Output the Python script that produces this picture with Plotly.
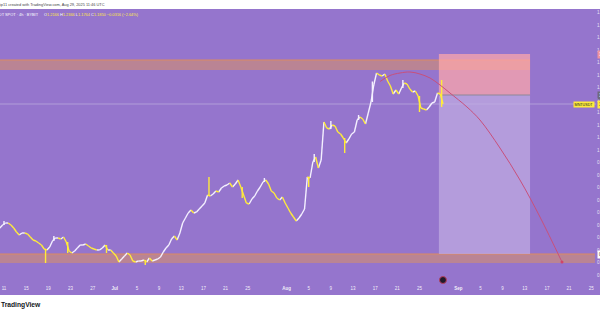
import plotly.graph_objects as go
import pandas as pd

# ---------------- data ----------------
candle_start = "2025-06-10 00:00"   # 12h candles
first_open = 0.681
closes = [
    0.689, 0.701, 0.709, 0.709, 0.701, 0.689, 0.673, 0.661, 0.669, 0.669,
    0.665, 0.653, 0.641, 0.637, 0.629, 0.621, 0.605, 0.601, 0.613, 0.637,
    0.649, 0.649, 0.645, 0.653, 0.633, 0.597, 0.589, 0.597, 0.609, 0.621,
    0.621, 0.625, 0.617, 0.609, 0.605, 0.601, 0.601, 0.609, 0.621, 0.601,
    0.601, 0.589, 0.577, 0.553, 0.565, 0.577, 0.589, 0.581, 0.557, 0.553,
    0.557, 0.557, 0.561, 0.553, 0.569, 0.557, 0.561, 0.565, 0.573, 0.593,
    0.609, 0.621, 0.645, 0.657, 0.641, 0.669, 0.709, 0.729, 0.749, 0.761,
    0.749, 0.753, 0.765, 0.777, 0.789, 0.821, 0.817, 0.825, 0.837, 0.833,
    0.849, 0.857, 0.861, 0.869, 0.853, 0.865, 0.881, 0.853, 0.821, 0.789,
    0.785, 0.805, 0.817, 0.837, 0.853, 0.873, 0.881, 0.865, 0.837, 0.829,
    0.809, 0.801, 0.813, 0.789, 0.769, 0.749, 0.733, 0.717, 0.729, 0.745,
    0.765, 0.893, 0.889, 0.953, 0.973, 0.929, 0.961, 1.113, 1.089, 1.085,
    1.101, 1.097, 1.073, 1.065, 1.049, 1.029, 1.045, 1.065, 1.073, 1.121,
    1.133, 1.125, 1.105, 1.149, 1.193, 1.261, 1.309, 1.301, 1.297, 1.305,
    1.277, 1.257, 1.225, 1.241, 1.225, 1.249, 1.269, 1.265, 1.245, 1.233,
    1.237, 1.217, 1.169, 1.165, 1.161, 1.173, 1.189, 1.193, 1.229, 1.225,
    1.185,
]
wick_high = {2: 0.717, 20: 0.657, 76: 0.893, 96: 0.889, 114: 0.985, 120: 1.117,
             130: 1.141, 135: 1.275, 146: 1.281, 160: 1.281}
wick_low = {17: 0.549, 25: 0.589, 39: 0.589, 53: 0.541, 88: 0.809, 112: 0.853,
            125: 0.989, 152: 1.153, 160: 1.173}

tick_dates = ["2025-06-11", "2025-06-15", "2025-06-19", "2025-06-23", "2025-06-27",
              "2025-07-01", "2025-07-05", "2025-07-09", "2025-07-13", "2025-07-17",
              "2025-07-21", "2025-07-25", "2025-08-01", "2025-08-05", "2025-08-09",
              "2025-08-13", "2025-08-17", "2025-08-21", "2025-08-25", "2025-09-01",
              "2025-09-05", "2025-09-09", "2025-09-13", "2025-09-17", "2025-09-21",
              "2025-09-25"]
tick_text = ["11", "15", "19", "23", "27", "<b>Jul</b>", "5", "9", "13", "17", "21", "25",
             "<b>Aug</b>", "5", "9", "13", "17", "21", "25", "<b>Sep</b>", "5", "9", "13",
             "17", "21", "25"]

# zones
upper_zone = (1.321, 1.361)
upper_zone_end = "2025-09-13 23:00"
lower_zone = (0.549, 0.585)
lower_zone_end = "2025-09-25 16:00"
last_price = 1.185

# short position tool
pos_start, pos_end = "2025-08-28 12:00", "2025-09-13 23:00"
pos_stop, pos_entry, pos_target = 1.385, 1.221, 0.585

# projected curve drawing
curve_dates = ["2025-08-17 21:00", "2025-08-19 16:00",
               "2025-08-21 11:30", "2025-08-23 07:00", "2025-08-25 02:00", "2025-08-26 21:30",
               "2025-08-28 17:00", "2025-08-30 12:00", "2025-09-02 13:40", "2025-09-04 22:00",
               "2025-09-08 12:40", "2025-09-12 03:20", "2025-09-15 18:00", "2025-09-19 17:20"]
curve_prices = [1.275, 1.299, 1.309, 1.313, 1.305, 1.289,
                1.261, 1.229, 1.173, 1.121, 1.009, 0.881, 0.733, 0.553]

event_date = "2025-08-29 05:45"

# ---------------- figure ----------------
W, H = 600, 315
PT, PB, PR = 9, 281, 596     # plot area top, bottom (px), right edge
PURPLE = "#9575CD"
YELLOW = "#FFEB3B"
WHITE_C = "#F4F0FF"


def py(Y):
    return (PB - Y) / (PB - PT)


def px(X):
    return X / PR


ts = pd.date_range(candle_start, periods=len(closes), freq="12h")
opens = [first_open] + closes[:-1]
half = pd.Timedelta(hours=6)

# each 12h candle drawn as a thin stroke from its open to its close, coloured by direction
seg = {"up": ([], []), "down": ([], [])}
for k, (t, o, c) in enumerate(zip(ts, opens, closes)):
    key = "up" if c >= o else "down"
    xs_, ys_ = seg[key]
    xs_ += [t - half, t + half, None]
    ys_ += [o, c, None]
    hi = max(o, c, wick_high.get(k, -1))
    lo = min(o, c, wick_low.get(k, 99))
    if hi > max(o, c) or lo < min(o, c):
        xs_ += [t, t, None]
        ys_ += [lo, hi, None]

fig = go.Figure()
fig.add_trace(go.Scatter(x=seg["up"][0], y=seg["up"][1], mode="lines",
                         line=dict(color=WHITE_C, width=1.4), hoverinfo="skip", showlegend=False))
fig.add_trace(go.Scatter(x=seg["down"][0], y=seg["down"][1], mode="lines",
                         line=dict(color=YELLOW, width=1.4), hoverinfo="skip", showlegend=False))

fig.add_trace(go.Scatter(x=curve_dates, y=curve_prices, mode="lines",
                         line=dict(color="#C8507C", width=1, shape="spline"),
                         hoverinfo="skip", showlegend=False))
fig.add_trace(go.Scatter(x=[curve_dates[-1]], y=[curve_prices[-1]], mode="markers",
                         marker=dict(color="#D04468", size=3),
                         hoverinfo="skip", showlegend=False))
fig.add_trace(go.Scatter(x=[event_date], y=[0.481], mode="markers",
                         marker=dict(color="#1F1B2B", size=7, line=dict(color="#B84060", width=1)),
                         cliponaxis=False, hoverinfo="skip", showlegend=False))

shapes = []
# zones
shapes.append(dict(type="rect", xref="x", yref="y", x0="2025-06-01", x1=upper_zone_end,
                   y0=upper_zone[0], y1=upper_zone[1], fillcolor="#BA8494", line_width=0, layer="below"))
shapes.append(dict(type="line", xref="x", yref="y", x0="2025-06-01", x1=upper_zone_end,
                   y0=upper_zone[1], y1=upper_zone[1], line=dict(color="#DC8A62", width=1.2), layer="below"))
shapes.append(dict(type="rect", xref="x", yref="y", x0="2025-06-01", x1=lower_zone_end,
                   y0=lower_zone[0], y1=lower_zone[1], fillcolor="#BA8494", line_width=0, layer="below"))
shapes.append(dict(type="line", xref="x", yref="y", x0="2025-06-01", x1=lower_zone_end,
                   y0=lower_zone[1], y1=lower_zone[1], line=dict(color="#DC8A62", width=1.2), layer="below"))
# position tool
shapes.append(dict(type="rect", xref="x", yref="y", x0=pos_start, x1=pos_end,
                   y0=pos_entry, y1=pos_stop, fillcolor="rgba(255,167,170,0.72)", line_width=0, layer="below"))
shapes.append(dict(type="rect", xref="x", yref="y", x0=pos_start, x1=pos_end,
                   y0=pos_target, y1=pos_entry, fillcolor="rgba(192,172,226,0.72)", line_width=0, layer="below"))
shapes.append(dict(type="line", xref="x", yref="y", x0=pos_start, x1=pos_end,
                   y0=pos_entry, y1=pos_entry, line=dict(color="#8C8798", width=1), layer="below"))
# last price line
shapes.append(dict(type="line", xref="paper", yref="y", x0=0, x1=1,
                   y0=last_price, y1=last_price, line=dict(color="rgba(215,208,232,0.45)", width=1), layer="below"))
# white strips (top / bottom)
shapes.append(dict(type="rect", xref="paper", yref="paper", x0=-0.02, x1=1.02,
                   y0=py(PT), y1=py(0) + 0.01, fillcolor="white", line_width=0, layer="above"))
shapes.append(dict(type="rect", xref="paper", yref="paper", x0=-0.02, x1=1.02,
                   y0=py(H) - 0.01, y1=py(295), fillcolor="white", line_width=0, layer="above"))

FONT = "Liberation Sans"
ann = []
ann.append(dict(xref="paper", yref="paper", x=px(-1), y=py(4.5), xanchor="left", yanchor="middle",
                text="ip11 created with TradingView.com, Aug 29, 2025 11:46 UTC", showarrow=False,
                font=dict(family=FONT, size=3.9, color="#444444"), borderpad=0))
ann.append(dict(xref="paper", yref="paper", x=px(40), y=py(14.5), xanchor="right", yanchor="middle",
                text="MNTUSDT SPOT · 4h · BYBIT", showarrow=False,
                font=dict(family=FONT, size=3.9, color="#FFFFFF"), borderpad=0))
Y = "<span style='color:%s'>%%s</span>" % YELLOW
ohlc = ("O" + Y % "1.2166" + " H" + Y % "1.2366" + " L" + Y % "1.1764" + " C" + Y % "1.1850"
        + " " + Y % "−0.0316 (−2.64%)")
ann.append(dict(xref="paper", yref="paper", x=px(43), y=py(14.5), xanchor="left", yanchor="middle",
                text=ohlc, showarrow=False,
                font=dict(family=FONT, size=3.9, color="#FFFFFF"), borderpad=0))
ann.append(dict(xref="paper", yref="paper", x=px(0), y=py(305), xanchor="left", yanchor="middle",
                text="<b>TradingView</b>", showarrow=False,
                font=dict(family=FONT, size=6.7, color="#131722"), borderpad=0))
ann.append(dict(xref="paper", yref="y", x=px(595), y=last_price, xanchor="right", yanchor="middle",
                text="MNTUSDT", showarrow=False, bgcolor=YELLOW,
                font=dict(family=FONT, size=3.7, color="#131722"), borderpad=0.6))
# right price-scale labels (mostly cut off by the window edge, as in the reference)
for price, bg, fg in [(pos_stop, "#F0939E", "#FFFFFF"), (pos_entry, "#6E6A7C", "#FFFFFF"),
                      (last_price, YELLOW, "#131722"), (lower_zone[1], "#FFFFFF", "#131722")]:
    ann.append(dict(xref="paper", yref="y", x=px(597), y=price, xanchor="left", yanchor="middle",
                    text="%.4f" % price, showarrow=False, bgcolor=bg,
                    font=dict(family=FONT, size=4.5, color=fg), borderpad=1))

fig.update_layout(
    width=W, height=H,
    margin=dict(l=0, r=W - PR, t=PT, b=H - PB, pad=0),
    paper_bgcolor=PURPLE, plot_bgcolor=PURPLE,
    shapes=shapes, annotations=ann,
    showlegend=False, hovermode=False,
    xaxis=dict(type="date", range=["2025-06-10 06:40", "2025-09-25 20:40"],
               tickmode="array", tickvals=tick_dates, ticktext=tick_text,
               showgrid=False, zeroline=False, showline=False, ticks="",
               ticklabelstandoff=3,
               tickfont=dict(family=FONT, size=4.5, color="rgba(255,255,255,0.9)"),
               automargin=False, fixedrange=True),
    yaxis=dict(range=[0.477, 1.565], side="right", dtick=0.05, tick0=0,
               showgrid=False, zeroline=False, showline=False, ticks="",
               tickfont=dict(family=FONT, size=4.5, color="rgba(255,255,255,0.8)"),
               automargin=False, fixedrange=True),
)

fig.write_html("out.html")
